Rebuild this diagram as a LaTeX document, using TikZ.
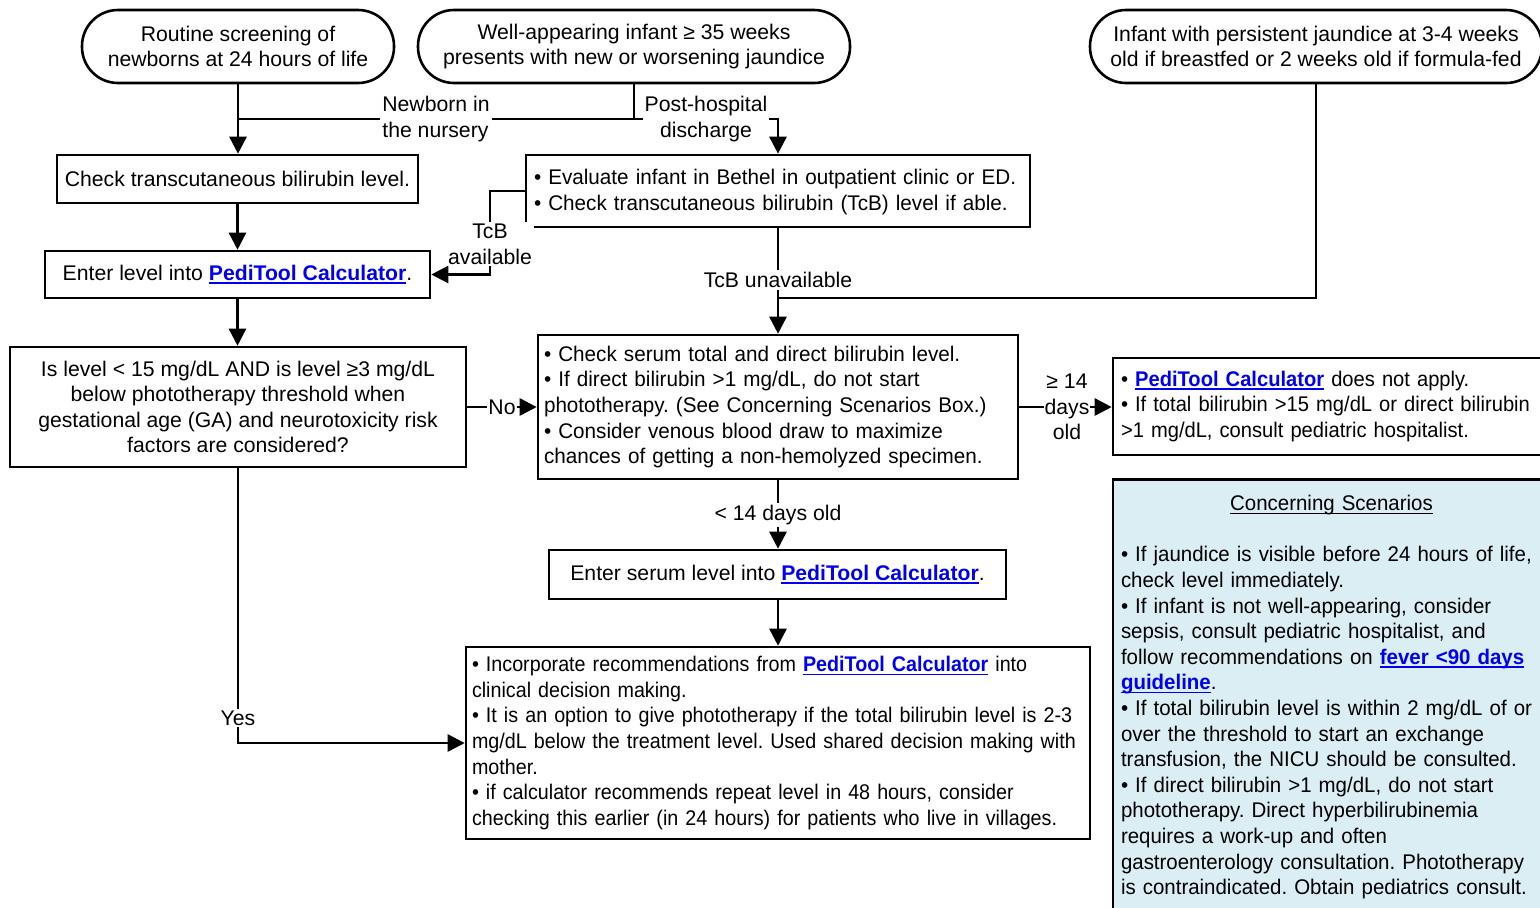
\documentclass[tikz,border=0pt]{standalone}
\usepackage{fontspec}
\setmainfont{Liberation Sans}
\usetikzlibrary{arrows.meta}
\frenchspacing
\hyphenpenalty=10000
\exhyphenpenalty=10000
\definecolor{linkblue}{RGB}{0,0,238}
\definecolor{cbox}{RGB}{218,238,243}
\newcommand\myul[1]{{\setbox0\hbox{#1}\rlap{\rule[-1.7pt]{\wd0}{0.75pt}}\box0}}
\newcommand\lnk[1]{\textcolor{linkblue}{\bfseries\myul{#1}}}
\tikzset{
  base/.style={font=\fontsize{10.6pt}{12.8pt}\selectfont, line width=1.3pt},
  squeeze/.style={font=\fontsize{10.6pt}{12.8pt}\selectfont\addfontfeatures{FakeStretch=#1}},
  oval/.style={base, draw, rounded corners=18pt, align=center, inner sep=0pt, minimum height=36.5pt},
  cbox/.style={base, draw, align=center, inner sep=0pt},
  lbox/.style={base, draw, align=left, inner ysep=0pt},
  lab/.style={font=\fontsize{10.6pt}{12.8pt}\selectfont, fill=white, inner sep=1pt},
  conn/.style={line width=1.3pt},
  arr/.style={conn, -{Triangle[length=8.5pt,width=8.5pt]}}
}
\begin{document}
\begin{tikzpicture}[x=0.5pt,y=-0.5pt]
\useasboundingbox (0,0) rectangle (1540,907);
% top ovals
\node[oval, minimum width=156pt] (o1) at (238,46.5) {Routine screening of\\newborns at 24 hours of life};
\node[oval, minimum width=216pt] (o2) at (634,46.5) {Well-appearing infant ≥ 35 weeks\\presents with new or worsening jaundice};
\node[oval, minimum width=226pt] (o3) at (1316,46.5) {Infant with persistent jaundice at 3-4 weeks\\old if breastfed or 2 weeks old if formula-fed};
% left column
\node[cbox, minimum width=180.5pt, minimum height=24pt] (chk) at (237.5,179) {Check transcutaneous bilirubin level.};
\node[cbox, minimum width=192.5pt, minimum height=23.5pt] (ent) at (237.5,274.5) {Enter level into \lnk{PediTool Calculator}.};
\node[cbox, minimum width=228pt, minimum height=60pt] (isl) at (238,407) {Is level < 15 mg/dL AND is level ≥3 mg/dL\\below phototherapy threshold when\\gestational age (GA) and neurotoxicity risk\\factors are considered?};
% middle column
\node[lbox, squeeze=0.975, inner xsep=4pt, text width=244pt, minimum height=36pt] (eval) at (778,191) {\strut• Evaluate infant in Bethel in outpatient clinic or ED.\\• Check transcutaneous bilirubin (TcB) level if able.};
\node[lbox, squeeze=0.975, inner xsep=3pt, text width=234pt, minimum height=72pt] (ser) at (778,407) {• Check serum total and direct bilirubin level.\\• If direct bilirubin >1 mg/dL, do not start\\phototherapy. (See Concerning Scenarios Box.)\\• Consider venous blood draw to maximize\\chances of getting a non-hemolyzed specimen.};
\node[cbox, minimum width=228.5pt, minimum height=24.5pt] (ents) at (777.5,574.5) {Enter serum level into \lnk{PediTool Calculator}.};
\node[lbox, squeeze=0.93, inner xsep=3pt, text width=306pt, minimum height=96pt] (inc) at (778,743) {• Incorporate recommendations from \lnk{PediTool Calculator} into\\clinical decision making.\\• It is an option to give phototherapy if the total bilirubin level is 2-3\\mg/dL below the treatment level. Used shared decision making with\\mother.\\• if calculator recommends repeat level in 48 hours, consider\\checking this earlier (in 24 hours) for patients who live in villages.};
% right column
\node[lbox, squeeze=0.95, inner xsep=4pt, text width=210.5pt, minimum height=48.5pt] (rt) at (1331.5,406.5) {• \lnk{PediTool Calculator} does not apply.\\• If total bilirubin >15 mg/dL or direct bilirubin\\>1 mg/dL, consult pediatric hospitalist.};
\node[lbox, squeeze=0.965, fill=cbox, inner xsep=4pt, inner ysep=8pt, text width=210.5pt, anchor=north] (cs) at (1331.5,478) {\hbox to 210.5pt{\hss\myul{Concerning Scenarios}\hss}\\[12.8pt]• If jaundice is visible before 24 hours of life,\\check level immediately.\\• If infant is not well-appearing, consider\\sepsis, consult pediatric hospitalist, and\\follow recommendations on \lnk{fever <90 days}\\\lnk{guideline}.\\• If total bilirubin level is within 2 mg/dL of or\\over the threshold to start an exchange\\transfusion, the NICU should be consulted.\\• If direct bilirubin >1 mg/dL, do not start\\phototherapy. Direct hyperbilirubinemia\\requires a work-up and often\\gastroenterology consultation. Phototherapy\\is contraindicated. Obtain pediatrics consult.};
% junction coordinates
\coordinate (j1) at (238,119);
\coordinate (j2) at (778,119);
\coordinate (j3) at (490,274.5);
\coordinate (j4) at (778,298);
% connectors
\draw[arr] (o1.south) -- (o1.south |- chk.north);
\draw[conn] (o2.south) |- (j1);
\draw[arr] (o2.south) |- (j2) -- (j2 |- eval.north);
\draw[arr] (chk) -- (ent);
\draw[arr] (ent.south) -- (ent.south |- isl.north);
\draw[arr] (eval.west) -| (j3) -- (ent.east);
\draw[arr] (eval.south) -- (ser.north);
\draw[conn] (o3.south) |- (j4);
\draw[arr] (isl.east) -- (ser.west);
\draw[arr] (ser.east) -- (ser.east -| rt.west);
\draw[arr] (ser.south) -- (ents.north -| ser.south);
\draw[arr] (ents.south -| inc.north) -- (inc.north);
\draw[arr] (isl.south) |- (inc.west);
% connector labels
\node[lab, align=left] (l1) at (436,119) {Newborn in\\the nursery};
\node[lab, align=center] (l2) at (706,119) {Post-hospital\\discharge};
\node[lab, align=center] (l3) at (490,244) {TcB\\available};
\node[lab] (l4) at (778,280) {TcB unavailable};
\node[lab, inner sep=0.5pt] (l5) at (502,407) {No};
\node[lab, align=center, inner sep=0.5pt] (l6) at (1067,407) {≥ 14\\days\\old};
\node[lab] (l7) at (778,515) {< 14 days old};
\node[lab] (l8) at (238,718) {Yes};
\end{tikzpicture}
\end{document}
